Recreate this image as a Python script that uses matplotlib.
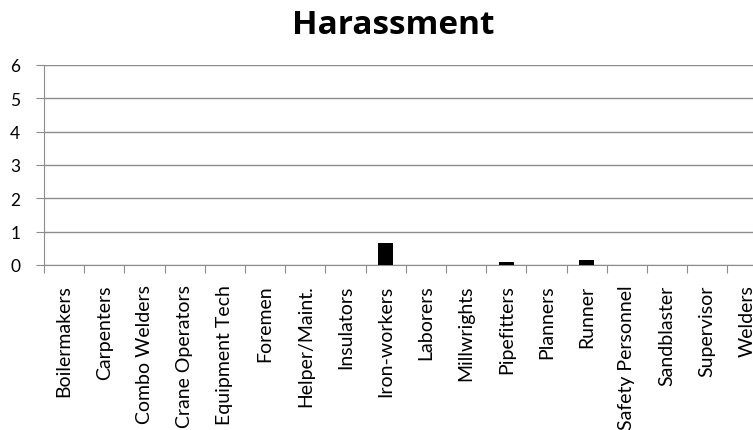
import matplotlib
matplotlib.use("Agg")
import matplotlib.pyplot as plt
import numpy as np

categories = ["Boilermakers", "Carpenters", "Combo Welders", "Crane Operators",
              "Equipment Tech", "Foremen", "Helper/Maint.", "Insulators",
              "Iron-workers", "Laborers", "Millwrights", "Pipefitters",
              "Planners", "Runner", "Safety Personnel", "Sandblaster",
              "Supervisor", "Welders"]
values = [0, 0, 0, 0, 0, 0, 0, 0, 0.65, 0, 0, 0.1, 0, 0.14, 0, 0, 0, 0]
y_ticks = [0, 1, 2, 3, 4, 5, 6]

plt.rcParams['font.family'] = ['Lato', 'DejaVu Sans']

fig = plt.figure(figsize=(7.53, 4.31), dpi=100)
ax = fig.add_axes([44 / 753, 1 - 266 / 431, 723.6 / 753, 200 / 431])

x = np.arange(len(categories)) + 0.5
ax.bar(x, values, width=0.37, color="black", zorder=3)

ax.set_xlim(0, len(categories))
ax.set_ylim(0, 6)
ax.set_yticks(y_ticks)
ax.set_yticklabels([str(v) for v in y_ticks], fontsize=12.5)
ax.yaxis.grid(True, color="#8c8c8c", linewidth=1, zorder=0)

ax.set_xticks(np.arange(len(categories) + 1))
ax.set_xticklabels([])
ax.set_xticks(x, minor=True)
ax.set_xticklabels(categories, minor=True, rotation=90, fontsize=14)
ax.tick_params(axis="x", which="minor", length=0, pad=14)
ax.tick_params(axis="x", which="major", length=6, color="#8c8c8c", direction="out")
ax.tick_params(axis="y", length=6, color="#8c8c8c", pad=11)

for side in ["top", "right"]:
    ax.spines[side].set_visible(False)
ax.spines["left"].set_color("#8c8c8c")
ax.spines["bottom"].set_color("#8c8c8c")

fig.text(393 / 753, 1 - 25 / 431, "Harassment", ha="center", va="center",
         fontsize=24, fontweight="bold", family=["Open Sans", "DejaVu Sans"])

fig.savefig("out.png", dpi=100)
